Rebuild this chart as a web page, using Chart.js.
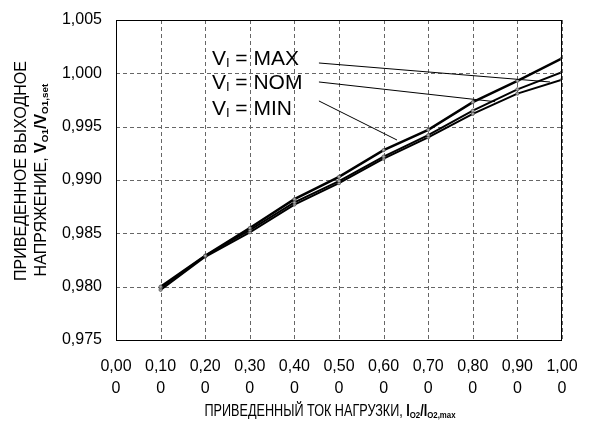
<!DOCTYPE html>
<html>
<head>
<meta charset="utf-8">
<script src="https://cdn.jsdelivr.net/npm/chart.js@4.4.1/dist/chart.umd.min.js"></script>
<style>
  body { margin: 0; background: #fff; }
  #wrap { width: 589px; height: 426px; }
</style>
</head>
<body>
<div id="wrap"><canvas id="chart" width="589" height="426"></canvas></div>
<script>
// load current (relative) on x, output voltage (relative) on y
const loadCurrent = [0.1, 0.2, 0.3, 0.4, 0.5, 0.6, 0.7, 0.8, 0.9, 1.0];
const vinMax = [0.9800, 0.9829, 0.9855, 0.9882, 0.9903, 0.9928, 0.9947, 0.9973, 0.9993, 1.0014];
const vinNom = [0.9799, 0.9829, 0.9853, 0.9879, 0.9899, 0.9922, 0.9942, 0.9965, 0.9985, 1.0001];
const vinMin = [0.9797, 0.9828, 0.9851, 0.9877, 0.9897, 0.9920, 0.9940, 0.9962, 0.9981, 0.9994];

const seriesNames = ['MAX', 'NOM', 'MIN'];

// callout labels: text anchor and leader line (data units)
const labelAnchors = [
    { x: 0.215, y: 1.00134 },
    { x: 0.215, y: 0.99909 },
    { x: 0.215, y: 0.99666 }
];
const leaderStart = [
    { x: 0.455, y: 1.00097 },
    { x: 0.455, y: 0.99919 },
    { x: 0.455, y: 0.99741 }
];
const leaderEnd = [
    { x: 0.973, y: 0.99919 },
    { x: 0.850, y: 0.99734 },
    { x: 0.630, y: 0.99375 }
];

const FONT = 'Arial, "Liberation Sans", sans-serif';

function toPoints(ys) {
    return loadCurrent.map((x, i) => ({ x: x, y: ys[i] }));
}

function lineSet(label, ys, width) {
    return {
        label: label,
        data: toPoints(ys),
        borderColor: '#000',
        borderWidth: width,
        pointRadius: 1.6,
        pointBorderWidth: 0.8,
        pointBorderColor: '#555',
        pointBackgroundColor: '#aaa',
        tension: 0
    };
}

// draw text made of runs: {t, bold, sub}
function runWidth(ctx, runs, size) {
    let w = 0;
    runs.forEach(r => {
        const s = r.sub ? size * 0.62 : size;
        ctx.font = (r.bold ? 'bold ' : '') + s + 'px ' + FONT;
        w += ctx.measureText(r.t).width;
    });
    return w;
}

function drawRuns(ctx, runs, x, y, size) {
    let cx = x;
    runs.forEach(r => {
        const s = r.sub ? size * 0.62 : size;
        ctx.font = (r.bold ? 'bold ' : '') + s + 'px ' + FONT;
        ctx.fillText(r.t, cx, r.sub ? y + size * 0.22 : y);
        cx += ctx.measureText(r.t).width;
    });
}

// dashed grid drawn from the scales' own ticks
const gridPlugin = {
    id: 'dashGrid',
    beforeDatasetsDraw(chart) {
        const ctx = chart.ctx;
        const a = chart.chartArea;
        const xs = chart.scales.x, ys = chart.scales.y;
        ctx.save();
        ctx.strokeStyle = '#666';
        ctx.lineWidth = 1;
        ctx.setLineDash([4, 3]);
        xs.ticks.forEach(t => {
            const px = Math.round(xs.getPixelForValue(t.value)) + 0.5;
            ctx.beginPath();
            ctx.moveTo(px, a.top);
            ctx.lineTo(px, a.bottom);
            ctx.stroke();
        });
        ys.ticks.forEach(t => {
            const py = Math.round(ys.getPixelForValue(t.value)) + 0.5;
            ctx.beginPath();
            ctx.moveTo(a.left, py);
            ctx.lineTo(a.right, py);
            ctx.stroke();
        });
        ctx.restore();
    }
};

const decorPlugin = {
    id: 'decor',
    afterDraw(chart) {
        const ctx = chart.ctx;
        const a = chart.chartArea;
        const xs = chart.scales.x, ys = chart.scales.y;
        ctx.save();

        // plot frame
        ctx.strokeStyle = '#000';
        ctx.lineWidth = 1;
        ctx.setLineDash([]);
        ctx.strokeRect(Math.round(a.left) + 0.5, Math.round(a.top) + 0.5,
            Math.round(a.right - a.left) - 1, Math.round(a.bottom - a.top));

        // leader lines
        for (let i = 0; i < 3; i++) {
            ctx.beginPath();
            ctx.moveTo(xs.getPixelForValue(leaderStart[i].x), ys.getPixelForValue(leaderStart[i].y));
            ctx.lineTo(xs.getPixelForValue(leaderEnd[i].x), ys.getPixelForValue(leaderEnd[i].y));
            ctx.stroke();
        }

        // series labels
        ctx.fillStyle = '#000';
        ctx.textBaseline = 'middle';
        ctx.textAlign = 'left';
        seriesNames.forEach((n, i) => {
            const px = xs.getPixelForValue(labelAnchors[i].x);
            const py = ys.getPixelForValue(labelAnchors[i].y);
            drawRuns(ctx, [{ t: 'V' }, { t: 'I', sub: true }, { t: ' = ' + n }], px, py, 21);
        });

        // x axis title (condensed to match the original width)
        const xRuns = [
            { t: 'ПРИВЕДЕННЫЙ ТОК НАГРУЗКИ, ' },
            { t: 'I', bold: true }, { t: 'O2', bold: true, sub: true },
            { t: '/I', bold: true }, { t: 'O2,max', bold: true, sub: true }
        ];
        ctx.save();
        ctx.translate(330, 412);
        ctx.scale(0.79, 1);
        const xw = runWidth(ctx, xRuns, 16);
        drawRuns(ctx, xRuns, -xw / 2, 0, 16);
        ctx.restore();

        // y axis title (two rotated lines)
        const y1 = [{ t: 'ПРИВЕДЕННОЕ ВЫХОДНОЕ' }];
        const y2 = [
            { t: 'НАПРЯЖЕНИЕ, ' },
            { t: 'V', bold: true }, { t: 'O1', bold: true, sub: true },
            { t: '/V', bold: true }, { t: 'O1,set', bold: true, sub: true }
        ];
        [[y1, 22, 171], [y2, 42, 180]].forEach(([runs, cx, cy]) => {
            ctx.save();
            ctx.translate(cx, cy);
            ctx.rotate(-Math.PI / 2);
            const w = runWidth(ctx, runs, 16);
            drawRuns(ctx, runs, -w / 2, 0, 16);
            ctx.restore();
        });
        ctx.restore();
    }
};

new Chart(document.getElementById('chart'), {
    type: 'line',
    data: {
        datasets: [
            lineSet('MAX', vinMax, 2.5),
            lineSet('NOM', vinNom, 2),
            lineSet('MIN', vinMin, 2)
        ]
    },
    options: {
        responsive: false,
        animation: false,
        layout: { padding: { left: 0, right: 27, top: 20, bottom: 0 } },
        plugins: {
            legend: { display: false },
            tooltip: { enabled: false }
        },
        scales: {
            x: {
                type: 'linear',
                min: 0,
                max: 1,
                afterFit: s => {
                    s.height = 86;
                    s.paddingLeft = 0;
                    s.paddingRight = 0;
                },
                ticks: {
                    stepSize: 0.1,
                    color: '#000',
                    padding: 16,
                    maxRotation: 0,
                    font: { family: FONT, size: 16, lineHeight: 1.35 },
                    callback: v => [v.toFixed(2).replace('.', ','), '0']
                },
                grid: { display: false, drawTicks: false },
                border: { display: false }
            },
            y: {
                min: 0.975,
                max: 1.005,
                afterFit: s => {
                    s.width = 116;
                    s.paddingTop = 0;
                    s.paddingBottom = 0;
                },
                ticks: {
                    stepSize: 0.005,
                    color: '#000',
                    padding: 14,
                    font: { family: FONT, size: 16 },
                    callback: v => v.toFixed(3).replace('.', ',')
                },
                grid: { display: false, drawTicks: false },
                border: { display: false }
            }
        }
    },
    plugins: [gridPlugin, decorPlugin]
});
</script>
</body>
</html>
